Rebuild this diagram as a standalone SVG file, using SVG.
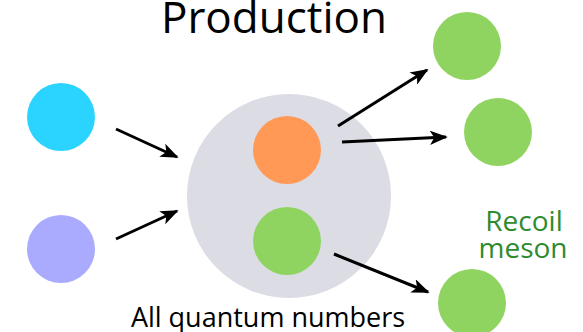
<svg xmlns="http://www.w3.org/2000/svg" width="583" height="332" viewBox="0 0 583 332">
<style>
.t{font-family:"Open Sans","Liberation Sans",sans-serif;text-anchor:middle}
.g{fill:#8fd460}
.a{stroke:#000;stroke-width:3;fill:none;marker-end:url(#ah)}
</style>
<defs>
<marker id="ah" viewBox="0 0 10 8" refX="9" refY="4" markerWidth="6" markerHeight="4.8" markerUnits="strokeWidth" orient="auto">
<path d="M0,0 L10,4 L0,8 L2.5,4 Z" fill="#000"/>
</marker>
</defs>
<rect width="583" height="332" fill="#fff"/>
<text class="t" x="274" y="33" font-size="44" fill="#000">Production</text>
<g id="blob"><circle cx="289" cy="196" r="102" fill="#dcdce4"/></g>
<g id="cyan"><circle cx="61" cy="117" r="34" fill="#2bd4ff"/></g>
<g id="purple"><circle cx="61" cy="249" r="34" fill="#aaaaff"/></g>
<g id="orange"><circle cx="287" cy="150" r="34" fill="#ff9955"/></g>
<g id="inner-green"><circle class="g" cx="287" cy="241" r="34"/></g>
<g id="out1"><circle class="g" cx="467" cy="46" r="34"/></g>
<g id="out2"><circle class="g" cx="498" cy="132" r="34"/></g>
<g id="out3"><circle class="g" cx="472" cy="303" r="34"/></g>
<g id="connectors">
<line class="a" x1="116" y1="129" x2="177" y2="157"/>
<line class="a" x1="116" y1="239" x2="177" y2="211"/>
<line class="a" x1="338" y1="126" x2="427" y2="70"/>
<line class="a" x1="342" y1="142" x2="446" y2="137"/>
<line class="a" x1="334" y1="254" x2="428" y2="292"/>
</g>
<text class="t" x="268" y="327" font-size="27" fill="#000">All quantum numbers</text>
<g id="recoil-label">
<text class="t" x="524" y="231" font-size="28" fill="#2e8b2e">Recoil</text>
<text class="t" x="523" y="258" font-size="28" fill="#2e8b2e">meson</text>
</g>
</svg>
